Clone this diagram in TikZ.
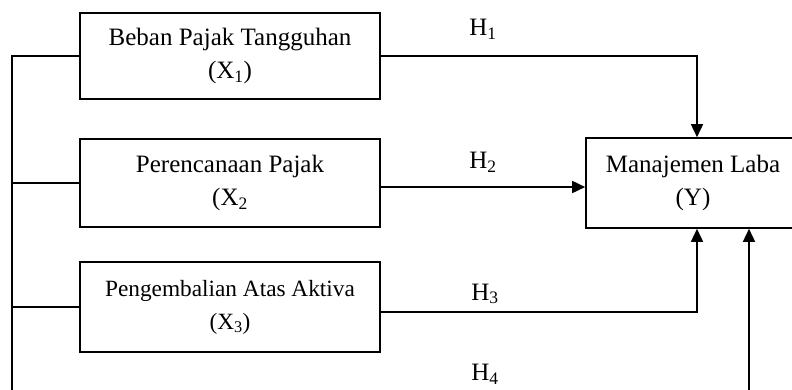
\documentclass[tikz,border=0pt]{standalone}
\usepackage{fontspec}
\setmainfont{Liberation Serif}
\usetikzlibrary{arrows.meta}
\begin{document}
\begin{tikzpicture}[x=1pt,y=-1pt,
  box/.style={draw,line width=1.6pt,align=center,inner sep=0pt,
    font=\fontsize{25}{33}\selectfont},
  lbl/.style={font=\fontsize{25}{30}\selectfont,inner sep=0pt},
  ln/.style={line width=1.6pt},
  arr/.style={line width=1.6pt,-{Triangle[length=13pt,width=12pt]}}]
\useasboundingbox (0,0) rectangle (792,389);
\clip (0,0) rectangle (792,389);
\node[box,minimum width=300pt,minimum height=86pt] (X1) at (230,56) {Beban Pajak Tangguhan\\(X\textsubscript{1})};
\node[box,minimum width=300pt,minimum height=88pt] (X2) at (230,183) {Perencanaan Pajak\\(X\textsubscript{2}};
\node[box,minimum width=300pt,minimum height=90pt,font=\fontsize{23.3}{33}\selectfont] (X3) at (230,307) {Pengembalian Atas Aktiva\\(X\textsubscript{3})};
\node[box,minimum width=214pt,minimum height=90pt] (Y) at (693,183) {Manajemen Laba\\(Y)};
\node[lbl] (H1) at (483,29) {H\textsubscript{1}};
\node[lbl] (H2) at (483,162) {H\textsubscript{2}};
\node[lbl] (H3) at (485,294) {H\textsubscript{3}};
\node[lbl] (H4) at (485,374) {H\textsubscript{4}};
\coordinate (c1) at (697,56);
\coordinate (c2) at (586,187);
\coordinate (c3) at (697,312);
\coordinate (L1) at (12,56);
\coordinate (Lb) at (12,395);
\coordinate (Rb) at (749,395);
\draw[arr] (X1.east) -- (c1) -- (c1 |- Y.north);
\draw[arr] (X2.east |- c2) -- (Y.west |- c2);
\draw[arr] (X3.east |- c3) -- (c3) -- (c3 |- Y.south);
\draw[ln] (X1.west) -- (L1) -- (Lb);
\draw[ln] (X2.west) -- (X2.west -| L1);
\draw[ln] (X3.west) -- (X3.west -| L1);
\draw[arr] (Rb) -- (Rb |- Y.south);
\end{tikzpicture}
\end{document}
